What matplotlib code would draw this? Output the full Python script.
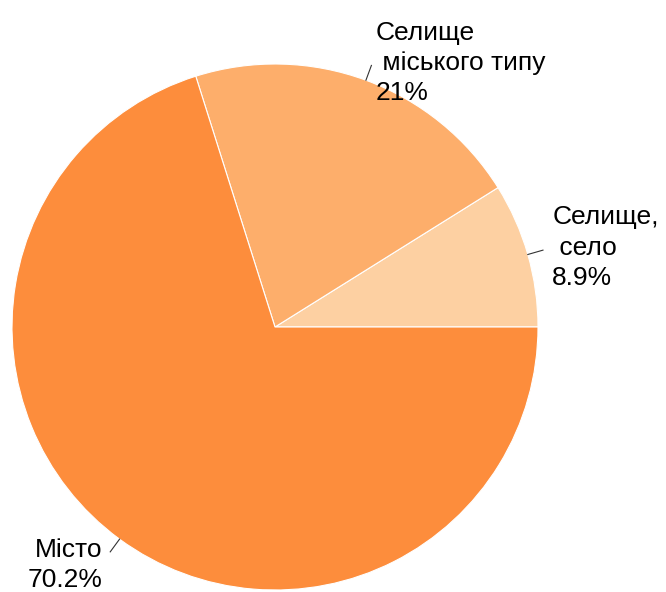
import numpy as np
import matplotlib
matplotlib.use("Agg")
import matplotlib.pyplot as plt

# share of respondents by settlement type
labels = ["Селище,\n село", "Селище\n міського типу", "Місто"]
shares = [8.9, 21.0, 70.2]
pct_text = ["8.9%", "21%", "70.2%"]
colors = ["#FDD0A2", "#FDAE6B", "#FD8D3C"]

plt.rcParams["font.family"] = ["Liberation Sans", "DejaVu Sans"]

fig = plt.figure(figsize=(6.66, 5.92), dpi=100)
ax = fig.add_axes([12 / 666, 2 / 592, 526 / 666, 526 / 592])
wedges, _ = ax.pie(shares, colors=colors, startangle=0, counterclock=True,
                   radius=1.0, wedgeprops=dict(edgecolor="white", linewidth=0.8))
ax.set_xlim(-1, 1)
ax.set_ylim(-1, 1)
ax.set_aspect("equal")
ax.axis("off")

# small leader tick + label at each slice midpoint
for w, lab, pct in zip(wedges, labels, pct_text):
    mid = np.deg2rad((w.theta1 + w.theta2) / 2)
    c, s = np.cos(mid), np.sin(mid)
    ax.plot([c * 1.0, c * 1.06], [s * 1.0, s * 1.06], color="#333333",
            lw=0.8, clip_on=False)
    x, y = c * 1.06, s * 1.06
    if c >= 0:
        dx = 0.015 if s > 0.5 else 0.035
        ax.text(x + dx, y + 0.01, f"{lab}\n{pct}", ha="left", va="center",
                fontsize=19, linespacing=1.33, color="black")
    else:
        ax.text(x - 0.03, y - 0.05, f"{lab}\n{pct}", ha="right", va="center",
                fontsize=19, linespacing=1.33, color="black")

fig.savefig("out.png", dpi=100)
